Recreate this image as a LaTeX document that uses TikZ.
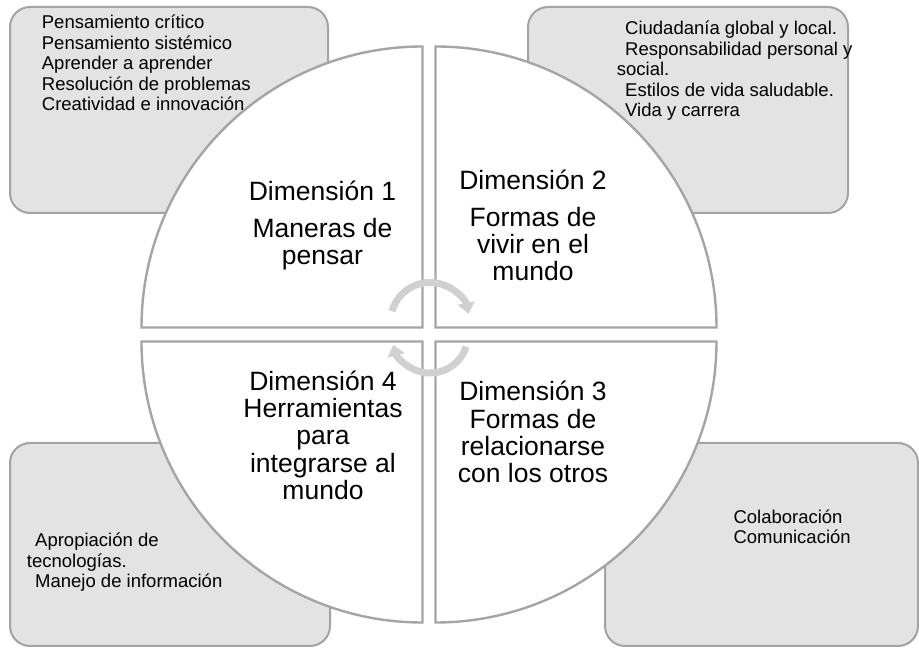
\documentclass[tikz,border=0pt]{standalone}
\usepackage{fontspec}
\setmainfont{Liberation Sans}
\usetikzlibrary{arrows.meta}
\definecolor{boxfill}{HTML}{E3E3E3}
\definecolor{boxline}{HTML}{A3A3A3}
\definecolor{quarterline}{HTML}{A5A5A5}
\definecolor{arrowgray}{HTML}{D0D0D0}
\newcommand\lineindent{\hspace*{8.3pt}}
\begin{document}
\begin{tikzpicture}[x=1pt,y=1pt,
  cornerbox/.style={draw=boxline, fill=boxfill, line width=2pt, rounded corners=20pt},
  quarter/.style={draw=quarterline, fill=white, line width=2.4pt, line join=miter},
  smalltext/.style={inner sep=0pt, align=left, font=\fontsize{18.5}{20.6}\selectfont, anchor=base west},
  bigtext/.style={inner sep=0pt, align=center, font=\fontsize{26.5}{27.2}\selectfont, anchor=base},
  cyclearrow/.style={draw=arrowgray, line width=7pt, -{Triangle[length=11pt,width=17pt]}}]
\useasboundingbox (0,0) rectangle (919,648);

% corner boxes
\draw[cornerbox] (10,435) rectangle (328,641);
\draw[cornerbox] (528,435) rectangle (848,641);
\draw[cornerbox] (10,2) rectangle (330,205);
\draw[cornerbox] (605,2) rectangle (918,205);

% (base anchor = baseline of the last line)
\node[smalltext] (t1) at (41.7,537.1) {Pensamiento crítico\\Pensamiento sistémico\\Aprender a aprender\\Resolución de problemas\\Creatividad e innovación};
\node[smalltext] (t2) at (616.7,531.1) {\lineindent Ciudadanía global y local.\\\lineindent Responsabilidad personal y\\social.\\\lineindent Estilos de vida saludable.\\\lineindent Vida y carrera};
\node[smalltext] (t4) at (26.7,60.3) {\lineindent Apropiación de\\tecnologías.\\\lineindent Manejo de información};
\node[smalltext] (t3) at (733.3,104.1) {Colaboración\\Comunicación};

% quarter circles
\draw[quarter] (422.5,320.5) -- ++(-281,0) arc[start angle=180,end angle=90,radius=281] -- cycle;
\draw[quarter] (435.5,320.5) -- ++(0,281) arc[start angle=90,end angle=0,radius=281] -- cycle;
\draw[quarter] (422.5,306.5) -- ++(0,-281) arc[start angle=270,end angle=180,radius=281] -- cycle;
\draw[quarter] (435.5,306.5) -- ++(281,0) arc[start angle=0,end angle=-90,radius=281] -- cycle;

\node[bigtext] (d1) at (322.5,383.2) {Dimensión 1\\[9.4pt]Maneras de\\pensar};
\node[bigtext] (d2) at (533,367.5) {Dimensión 2\\[9.4pt]Formas de\\vivir en el\\mundo};
\node[bigtext] (d4) at (323,148.7) {Dimensión 4\\Herramientas\\para\\integrarse al\\mundo};
\node[bigtext] (d3) at (533,165.4) {Dimensión 3\\Formas de\\relacionarse\\con los otros};

% cycle arrows
\coordinate (ctop) at (430,326);
\coordinate (cbot) at (430,313);
\draw[cyclearrow] ([shift={(164:39.5)}]ctop) arc[start angle=164,end angle=12,radius=39.5];
\draw[cyclearrow] ([shift={(-18:38)}]cbot) arc[start angle=-18,end angle=-165,radius=38];
\end{tikzpicture}
\end{document}
